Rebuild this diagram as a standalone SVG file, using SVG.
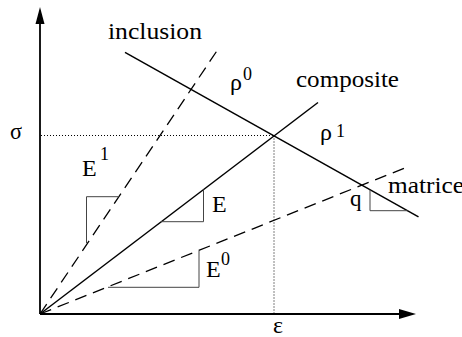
<svg xmlns="http://www.w3.org/2000/svg" width="462" height="337" viewBox="0 0 462 337">
<style>
text{font-family:"Liberation Serif","Times New Roman",serif;fill:#000}
.w{font-size:23px}
.g{font-size:24px}
.e{font-size:24px}
.s{font-size:18px}
.axis{stroke:#000;stroke-width:1.8;fill:none}
.solid{stroke:#000;stroke-width:1.5;fill:none}
.dash{stroke:#000;stroke-width:1.3;stroke-dasharray:12 7;fill:none}
.dot{stroke:#000;stroke-width:1;stroke-dasharray:1 2;fill:none}
.tri{stroke:#444;stroke-width:1;fill:none}
</style>
<rect width="462" height="337" fill="#fff"/>
<g id="axes">
<line class="axis" x1="40" y1="314" x2="40" y2="22"/>
<path d="M40,7 L35.5,24 L44.5,24 Z" fill="#000"/>
<line class="axis" x1="40" y1="314" x2="401" y2="314"/>
<path d="M416,314 L399,309 L399,319 Z" fill="#000"/>
<text x="10" y="139" class="g" textLength="12" lengthAdjust="spacingAndGlyphs">σ</text>
<text x="273" y="333" class="g" textLength="10" lengthAdjust="spacingAndGlyphs">ε</text>
</g>
<g id="connectors">
<line class="dot" x1="41" y1="135.5" x2="274" y2="135.5"/>
<line class="dot" x1="274" y1="135.5" x2="274" y2="313"/>
<line class="solid" x1="40" y1="314" x2="318" y2="102.5"/>
<line class="solid" x1="125" y1="52.3" x2="418.5" y2="216.8"/>
<line class="dash" x1="40" y1="314" x2="217.5" y2="50"/>
<line class="dash" x1="40" y1="314" x2="406" y2="167.5"/>
</g>
<g id="inclusion">
<text x="108" y="39" class="w" textLength="94" lengthAdjust="spacingAndGlyphs">inclusion</text>
</g>
<g id="composite">
<text x="296" y="87" class="w" textLength="103" lengthAdjust="spacingAndGlyphs">composite</text>
</g>
<g id="matrice">
<text x="388" y="193" class="w" textLength="76" lengthAdjust="spacingAndGlyphs">matrice</text>
</g>
<g id="rho0">
<text x="230" y="90" class="g" textLength="12" lengthAdjust="spacingAndGlyphs">ρ</text>
<text x="243" y="80" class="s">0</text>
</g>
<g id="rho1">
<text x="320" y="140" class="g" textLength="12" lengthAdjust="spacingAndGlyphs">ρ</text>
<text x="336" y="137" class="s">1</text>
</g>
<g id="E1">
<path class="tri" d="M86.5,243 V196.7 H119"/>
<text x="82" y="176" class="e">E</text>
<text x="100" y="160" class="s">1</text>
</g>
<g id="E">
<path class="tri" d="M161,221.7 H203.5 V189.5"/>
<text x="212" y="211.7" class="e">E</text>
</g>
<g id="E0">
<path class="tri" d="M108,287.3 H199 V250.5"/>
<text x="206" y="277" class="e">E</text>
<text x="221" y="265" class="s">0</text>
</g>
<g id="q">
<path class="tri" d="M370,189.6 V210.7 H407.6"/>
<text x="350" y="206" class="w">q</text>
</g>
</svg>
